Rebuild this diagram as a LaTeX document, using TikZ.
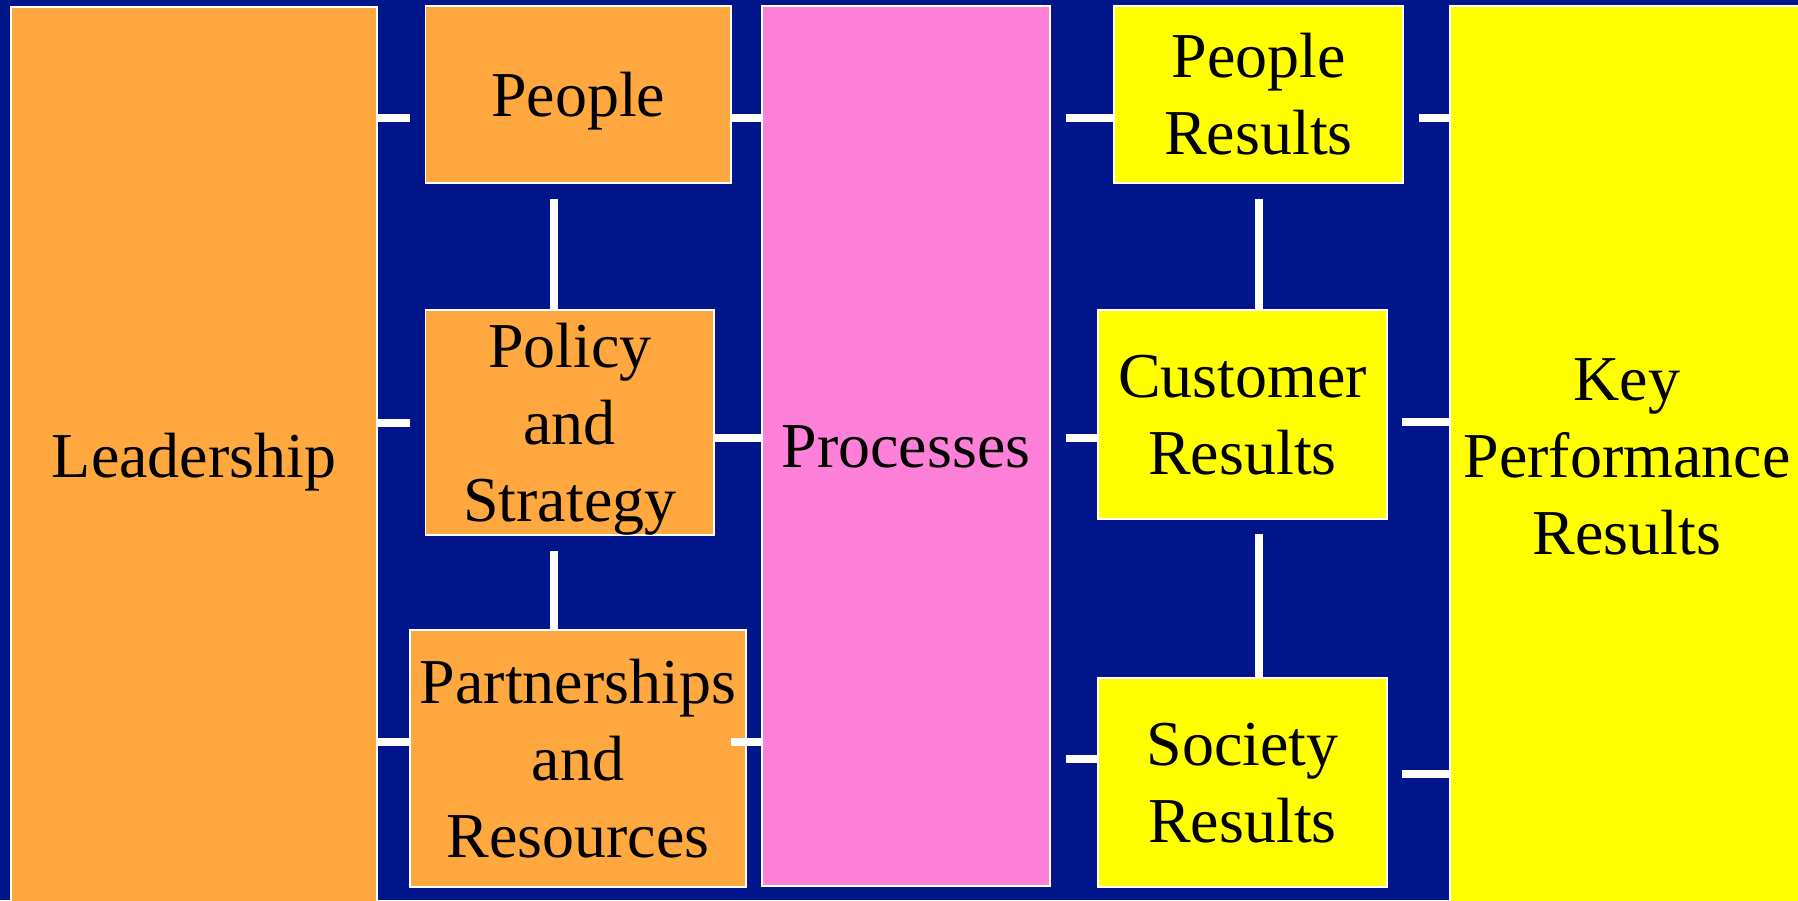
\documentclass[tikz,border=0pt]{standalone}
\usepackage{fontspec}
\setmainfont{Liberation Serif}
\usetikzlibrary{positioning,calc}
\definecolor{navy}{RGB}{2,22,140}
\definecolor{orangefill}{RGB}{255,168,64}
\definecolor{pinkfill}{RGB}{255,128,216}
\definecolor{yellowfill}{RGB}{255,255,0}
\newcommand\ls{\rule[-0.216em]{0pt}{1.107em}}

\begin{document}
\begin{tikzpicture}[x=0.1mm,y=-0.1mm,
	box/.style={draw=white,line width=0.4pt,anchor=north west,align=center,inner sep=0pt,outer sep=0pt,
		font=\fontsize{18.2}{21.9}\selectfont},
	obox/.style={box,fill=orangefill},
	pbox/.style={box,fill=pinkfill},
	ybox/.style={box,fill=yellowfill},
	link/.style={white,line width=0.8mm}]

\fill[navy](0,0)rectangle(1798,900);
\useasboundingbox(0,0)rectangle(1798,900);

\node[obox,minimum width=36.6mm,minimum height=89.8mm](lead)at(11,7){\ls Leadership};
\node[obox,minimum width=30.55mm,minimum height=17.7mm](people)[right=4.85mm of lead.north east,anchor=north west,yshift=0.1mm]{\ls People};
\node[obox,minimum width=28.85mm,minimum height=22.5mm](policy)[below=12.7mm of people.south west,anchor=north west]{\ls Policy\\and\\Strategy\ls};
\node[obox,minimum width=33.6mm,minimum height=25.7mm](part)[below=9.5mm of policy.south west,anchor=north west,xshift=-1.55mm]{\ls Partnerships\\and\\Resources\ls};
\node[pbox,minimum width=28.8mm,minimum height=88mm](proc)[right=3.1mm of people.north east,anchor=north west]{\ls Processes};
\node[ybox,minimum width=28.9mm,minimum height=17.7mm](pres)[right=6.4mm of proc.north east,anchor=north west]{\ls People\\Results\ls};
\node[ybox,minimum width=28.9mm,minimum height=20.9mm](cres)[below=12.7mm of pres.south west,anchor=north west,xshift=-1.6mm]{\ls Customer\\Results\ls};
\node[ybox,minimum width=28.9mm,minimum height=20.9mm](sres)[below=15.9mm of cres.south west,anchor=north west]{\ls Society\\Results\ls};
\node[ybox,minimum width=35.4mm,minimum height=90mm](kpr)[right=4.7mm of pres.north east,anchor=north west]{\ls Key\\Performance\\Results\ls};

\draw[link]($(people.west -| lead.east)+(0,24)$)--($(people.west)+(-15.5,24)$);
\draw[link](policy.west -| lead.east)--($(policy.west)+(-15.5,0)$);
\draw[link]($(part.west -| lead.east)+(0,-16.5)$)--($(part.west)+(0,-16.5)$);
\draw[link]($(people.east)+(0,24)$)--($(people.east -| proc.west)+(0,24)$);
\draw[link]($(policy.east)+(0,15.5)$)--($(policy.east -| proc.west)+(0,15.5)$);
\draw[link]($(part.east)+(-15,-16.5)$)--($(part.east -| proc.west)+(0,-16.5)$);
\draw[link]($(pres.west -| proc.east)+(16,24)$)--($(pres.west)+(0,24)$);
\draw[link]($(cres.west -| proc.east)+(16,23.5)$)--($(cres.west)+(0,23.5)$);
\draw[link]($(sres.west -| proc.east)+(16,-24)$)--($(sres.west)+(0,-24)$);
\draw[link]($(pres.east)+(16,24)$)--($(pres.east -| kpr.west)+(0,24)$);
\draw[link]($(cres.east)+(15,7.5)$)--($(cres.east -| kpr.west)+(0,7.5)$);
\draw[link]($(sres.east)+(15,-8.5)$)--($(sres.east -| kpr.west)+(0,-8.5)$);
\draw[link]($(people.south -| policy.north)+(-16,16)$)--($(policy.north)+(-16,0)$);
\draw[link]($(policy.south)+(-16,16)$)--($(policy.south |- part.north)+(-16,0)$);
\draw[link]($(pres.south)+(0,16)$)--(pres.south |- cres.north);
\draw[link]($(cres.south)+(16,15)$)--($(cres.south |- sres.north)+(16,0)$);

\end{tikzpicture}
\end{document}
